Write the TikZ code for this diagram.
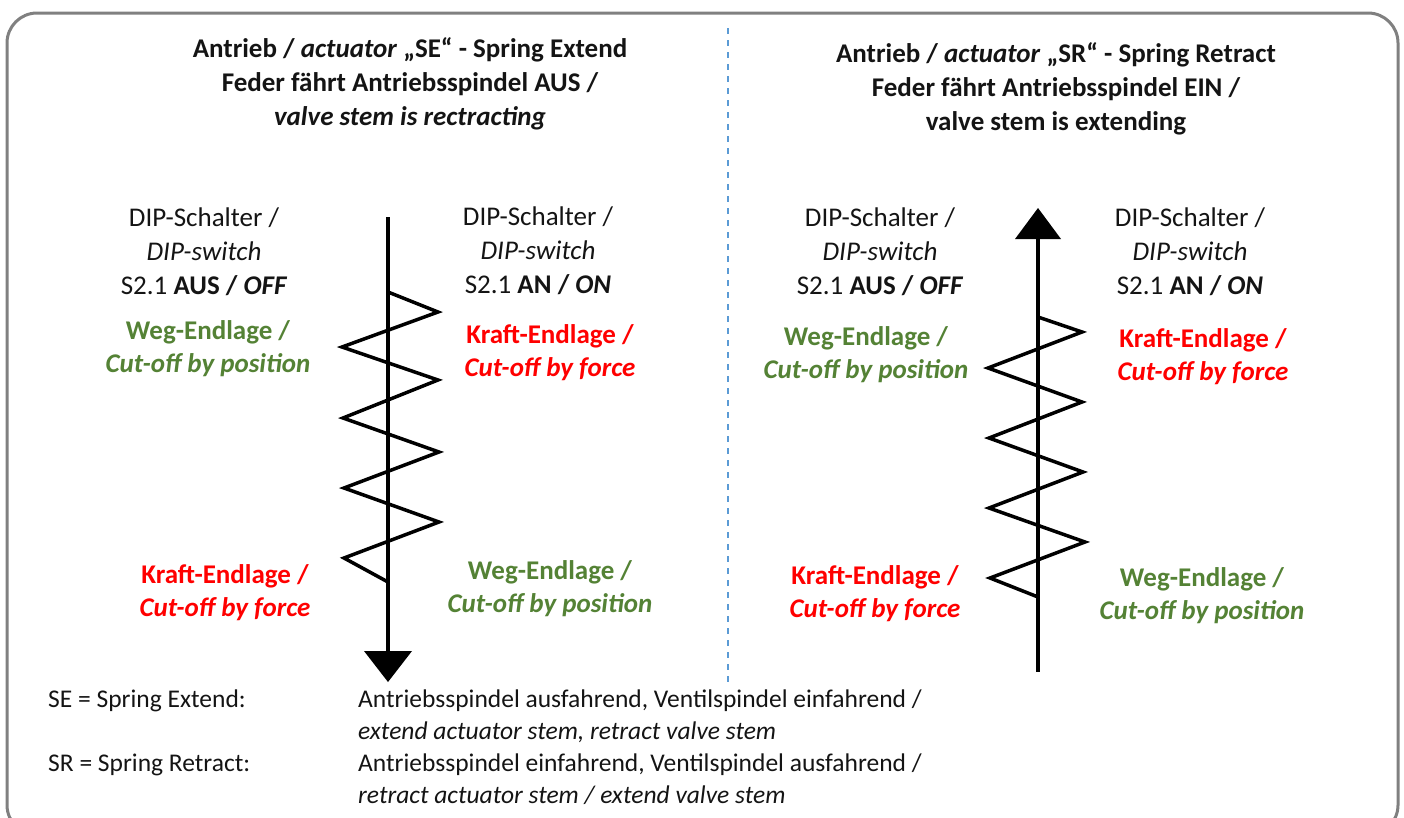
\documentclass[tikz,border=0pt]{standalone}
\usepackage{fontspec}
\setmainfont{Carlito}
\definecolor{bordergray}{RGB}{128,128,128}
\definecolor{dashblue}{RGB}{91,155,213}
\definecolor{wegGreen}{RGB}{84,130,53}
\definecolor{kraftRed}{RGB}{255,0,0}
\definecolor{txtblack}{RGB}{20,20,20}
\tikzset{
  txt/.style={font=\fontsize{27}{34}\selectfont, align=center, inner sep=0pt, text=txtblack},
  ttl/.style={font=\bfseries\fontsize{27}{34}\selectfont, align=center, inner sep=0pt, text=txtblack},
  weg/.style={font=\bfseries\fontsize{27}{33}\selectfont, align=center, inner sep=0pt, text=wegGreen},
  kraft/.style={font=\bfseries\fontsize{27}{33}\selectfont, align=center, inner sep=0pt, text=kraftRed},
  leg/.style={font=\fontsize{25.5}{32}\selectfont, anchor=west, inner sep=0pt, text height=18pt, text depth=6pt, text=txtblack},
  stem/.style={line width=4pt, black},
  spring/.style={line width=3.5pt, black, line join=miter},
  frame/.style={draw=bordergray, line width=3pt, rounded corners=30pt},
}
\begin{document}
\begin{tikzpicture}[x=1pt,y=-1pt]
\useasboundingbox (0,0) rectangle (1404,817);
\clip (0,0) rectangle (1404,817);
\draw[frame] (7,13) rectangle (1398,835);
\draw[dashblue, line width=1.5pt, dash pattern=on 6pt off 6pt] (728,28) -- (728,686);

% titles
\node[ttl] (t1) at (410,84) {Antrieb / \textit{actuator} „SE“ - Spring Extend\\ Feder fährt Antriebsspindel AUS /\\ \textit{valve stem is rectracting}};
\node[ttl] (t2) at (1056,89) {Antrieb / \textit{actuator} „SR“ - Spring Retract\\ Feder fährt Antriebsspindel EIN /\\ valve stem is extending};

% left actuator
\coordinate (la) at (388,217);
\coordinate (lb) at (388,652);
\draw[stem] (la) -- (lb);
\fill[black] (364,651) -- (412,651) -- (388,682) -- cycle;
\draw[spring] (388,292) -- (438,312) -- (342,347) -- (438,380) -- (343,418) -- (439,452) -- (344,488) -- (439,522) -- (344,558) -- (388,582);

% right actuator
\coordinate (ra) at (1038,238);
\coordinate (rb) at (1038,672);
\draw[stem] (ra) -- (rb);
\fill[black] (1015,239) -- (1061,239) -- (1038,208) -- cycle;
\draw[spring] (1038,317) -- (1082,332) -- (988,368) -- (1082,402) -- (989,438) -- (1083,472) -- (989,508) -- (1085,542) -- (990,578) -- (1038,597);

% left column labels
\node[txt] (d1) at (204,252) {DIP-Schalter /\\ \textit{DIP-switch}\\ S2.1 \textbf{AUS / \textit{OFF}}};
\node[weg] (w1) at (208,349) {Weg-Endlage /\\ \textit{Cut-off by position}};
\node[txt] (d2) at (538,251) {DIP-Schalter /\\ \textit{DIP-switch}\\ S2.1 \textbf{AN / \textit{ON}}};
\node[kraft] (k1) at (550,353) {Kraft-Endlage /\\ \textit{Cut-off by force}};
\node[kraft] (k2) at (225,593) {Kraft-Endlage /\\ \textit{Cut-off by force}};
\node[weg] (w2) at (550,589) {Weg-Endlage /\\ \textit{Cut-off by position}};

% right column labels
\node[txt] (d3) at (880,252) {DIP-Schalter /\\ \textit{DIP-switch}\\ S2.1 \textbf{AUS / \textit{OFF}}};
\node[weg] (w3) at (866,355) {Weg-Endlage /\\ \textit{Cut-off by position}};
\node[txt] (d4) at (1190,252) {DIP-Schalter /\\ \textit{DIP-switch}\\ S2.1 \textbf{AN / \textit{ON}}};
\node[kraft] (k3) at (1203,357) {Kraft-Endlage /\\ \textit{Cut-off by force}};
\node[kraft] (k4) at (875,594) {Kraft-Endlage /\\ \textit{Cut-off by force}};
\node[weg] (w4) at (1202,596) {Weg-Endlage /\\ \textit{Cut-off by position}};

% legend
\node[leg] (l1) at (48,701) {SE = Spring Extend:};
\node[leg] (l2) at (358,701) {Antriebsspindel ausfahrend, Ventilspindel einfahrend /};
\node[leg] (l3) at (358,733) {\textit{extend actuator stem, retract valve stem}};
\node[leg] (l4) at (48,765) {SR = Spring Retract:};
\node[leg] (l5) at (358,765) {Antriebsspindel einfahrend, Ventilspindel ausfahrend /};
\node[leg] (l6) at (358,797) {\textit{retract actuator stem / extend valve stem}};
\end{tikzpicture}
\end{document}
